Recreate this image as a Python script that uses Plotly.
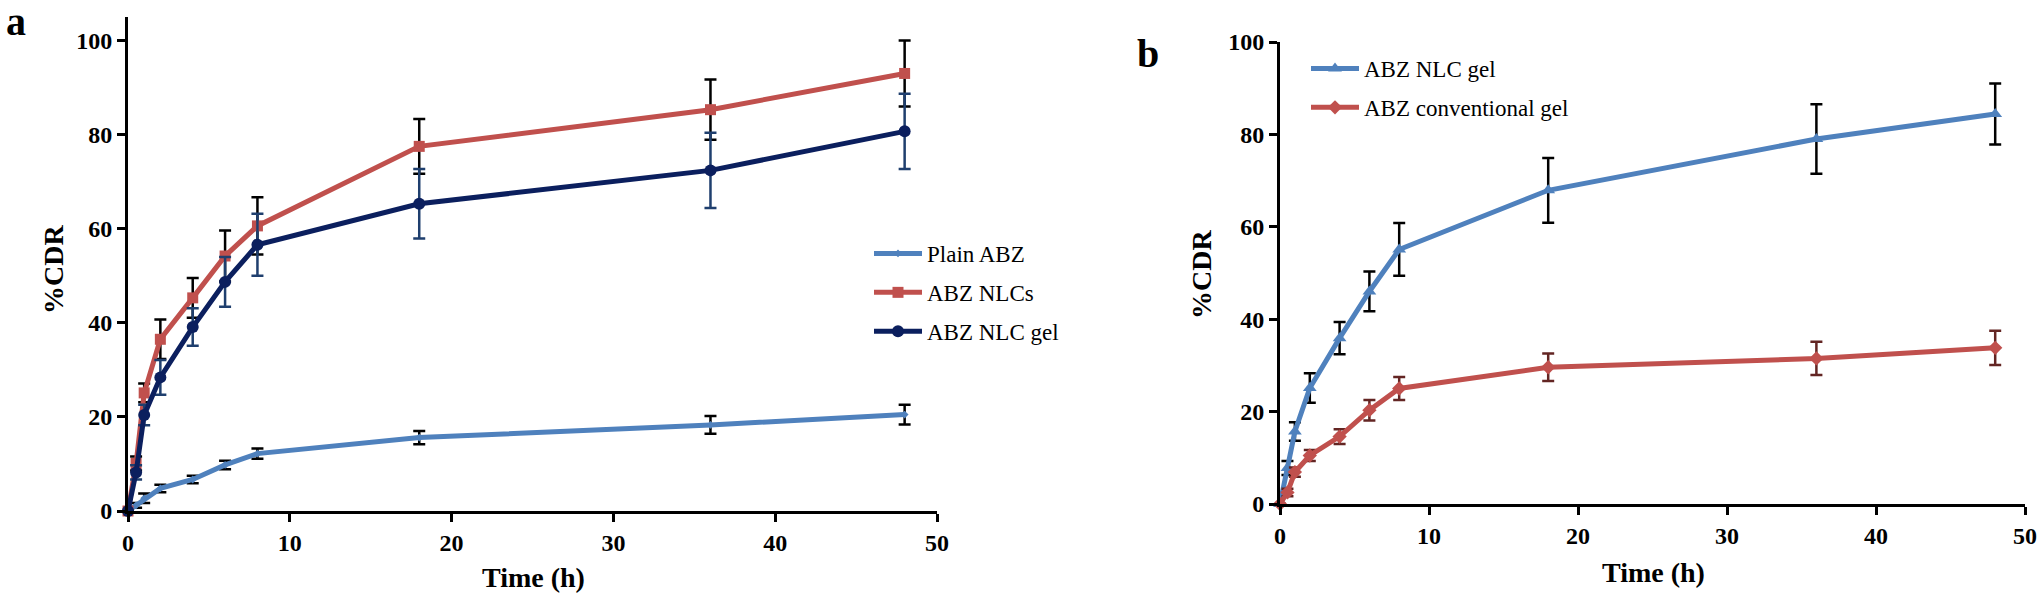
import plotly.graph_objects as go

# sampling times (h), shared by both panels
time_h = [0, 0.5, 1, 2, 4, 6, 8, 18, 36, 48]

# panel a
plain_abz = [0, 1.2, 2.7, 4.8, 6.7, 9.8, 12.2, 15.6, 18.3, 20.5]
plain_abz_err = [0, 0.5, 1.0, 0.8, 0.8, 0.9, 1.1, 1.4, 1.9, 2.1]
abz_nlcs = [0, 10.1, 25.1, 36.5, 45.3, 54.2, 60.6, 77.5, 85.3, 93.0]
abz_nlcs_err = [0, 1.5, 2.0, 4.2, 4.2, 5.4, 6.1, 5.8, 6.4, 7.0]
abz_nlc_gel_a = [0, 8.2, 20.4, 28.4, 39.1, 48.7, 56.6, 65.3, 72.4, 80.7]
abz_nlc_gel_a_err = [0, 1.5, 2.2, 3.7, 4.0, 5.3, 6.6, 7.4, 8.0, 8.0]

# panel b
abz_nlc_gel_b = [0, 7.8, 15.7, 25.1, 35.9, 46.0, 55.1, 67.9, 79.0, 84.4]
abz_nlc_gel_b_err = [0, 1.5, 2.0, 3.2, 3.5, 4.3, 5.7, 7.0, 7.5, 6.6]
abz_conv_gel = [0, 2.5, 6.9, 10.5, 14.6, 20.3, 25.0, 29.6, 31.5, 33.8]
abz_conv_gel_err = [0, 0.8, 1.0, 1.2, 1.6, 2.2, 2.5, 3.0, 3.6, 3.7]

W, H = 2042, 597
SERIF = "Liberation Serif"


def series(y, err, name, color, symbol, msize, errcolor, xaxis, yaxis, legend, group):
    return go.Scatter(
        x=time_h, y=y, name=name, mode="lines+markers",
        line=dict(color=color, width=5),
        marker=dict(color=color, symbol=symbol, size=msize),
        error_y=dict(type="data", array=err, visible=True, color=errcolor,
                     thickness=2.5, width=6),
        xaxis=xaxis, yaxis=yaxis, legend=legend, legendgroup=group,
        cliponaxis=False,
    )


fig = go.Figure()
fig.add_trace(series(plain_abz, plain_abz_err, "Plain ABZ", "#4F81BD", "diamond", 6,
                     "black", "x", "y", "legend", "g1"))
fig.add_trace(series(abz_nlcs, abz_nlcs_err, "ABZ NLCs", "#C0504D", "square", 11,
                     "black", "x", "y", "legend", "g2"))
fig.add_trace(series(abz_nlc_gel_a, abz_nlc_gel_a_err, "ABZ NLC gel", "#0B1F5E", "circle", 12,
                     "#1F3F6E", "x", "y", "legend", "g3"))
fig.add_trace(series(abz_nlc_gel_b, abz_nlc_gel_b_err, "ABZ NLC gel", "#4F81BD", "triangle-up", 12,
                     "black", "x2", "y2", "legend2", "g4"))
fig.add_trace(series(abz_conv_gel, abz_conv_gel_err, "ABZ conventional gel", "#C0504D", "diamond", 11,
                     "#632523", "x2", "y2", "legend2", "g5"))

axis_common = dict(
    showline=True, linecolor="black", linewidth=3, showgrid=False, zeroline=False,
    ticks="outside", ticklen=8, tickwidth=2.5, tickcolor="black",
    tickfont=dict(family=SERIF, size=24, color="black", weight="bold"),
    automargin=False,
)


def px_x(p):
    return p / W


def px_y(p):
    return 1 - p / H


legend_common = dict(
    xanchor="left", yanchor="top",
    font=dict(family=SERIF, size=23, color="black"),
    bgcolor="rgba(0,0,0,0)", itemwidth=48, traceorder="grouped",
    tracegroupgap=6,
)

fig.update_layout(
    width=W, height=H,
    margin=dict(l=0, r=0, t=0, b=0),
    paper_bgcolor="white", plot_bgcolor="white",
    font=dict(family=SERIF, color="black"),
    xaxis=dict(domain=[px_x(128), px_x(937)], range=[0, 50], dtick=10, anchor="y", **axis_common),
    yaxis=dict(domain=[px_y(511), px_y(17)], range=[0, 105], tickvals=[0, 20, 40, 60, 80, 100],
               anchor="x", **axis_common),
    xaxis2=dict(domain=[px_x(1280), px_x(2025)], range=[0, 50], dtick=10, anchor="y2", **axis_common),
    yaxis2=dict(domain=[px_y(504), px_y(42)], range=[0, 100], dtick=20, anchor="x2", **axis_common),
    legend=dict(x=px_x(869), y=px_y(232), **legend_common),
    legend2=dict(x=px_x(1306), y=px_y(47), **legend_common),
    showlegend=True,
)

title_font = dict(family=SERIF, size=28, color="black", weight="bold")
panel_font = dict(family=SERIF, size=40, color="black", weight="bold")
notes = [
    ("a", 16, 21, panel_font, 0),
    ("b", 1148, 54, panel_font, 0),
    ("%CDR", 53, 270, title_font, -90),
    ("%CDR", 1201, 275, title_font, -90),
    ("Time (h)", 533, 577, title_font, 0),
    ("Time (h)", 1653, 572, title_font, 0),
]
for text, x, y, f, ang in notes:
    fig.add_annotation(text=text, x=px_x(x), y=px_y(y), xref="paper", yref="paper",
                       showarrow=False, font=f, textangle=ang,
                       xanchor="center", yanchor="middle")

# drop the page's default body margin so the figure sits at the window's corner
fig.write_html("out.html", config={"displayModeBar": False},
               post_script="document.body.style.margin='0';")
